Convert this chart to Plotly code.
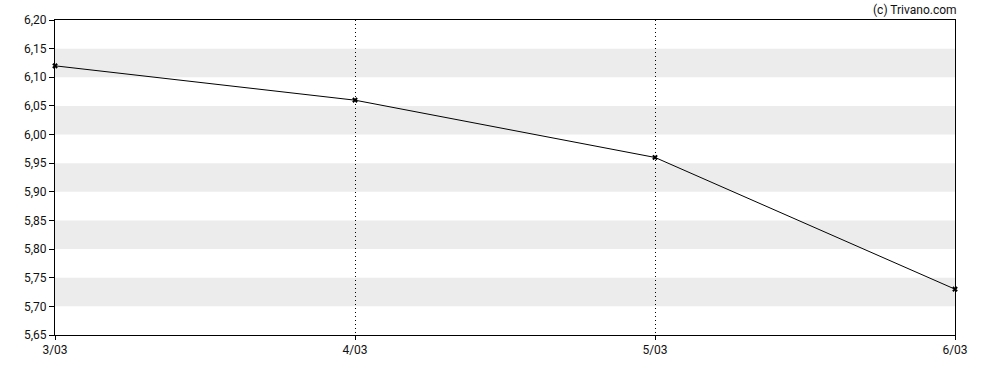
import plotly.graph_objects as go

dates = ["3/03", "4/03", "5/03", "6/03"]
prices = [6.12, 6.06, 5.96, 5.73]
y_ticks = [5.65, 5.70, 5.75, 5.80, 5.85, 5.90, 5.95, 6.00, 6.05, 6.10, 6.15, 6.20]

fig = go.Figure()

# alternating gray bands
shapes = []
for i in range(1, len(y_ticks) - 1, 2):
    shapes.append(dict(type="rect", xref="paper", yref="y", x0=0, x1=1,
                       y0=y_ticks[i], y1=y_ticks[i + 1],
                       fillcolor="#ececec", line=dict(width=0), layer="below"))

fig.add_trace(go.Scatter(
    x=list(range(len(dates))), y=prices, mode="lines+markers",
    line=dict(color="#000000", width=1),
    marker=dict(symbol="x", size=5, color="#000000", line=dict(width=0)),
    cliponaxis=False,
    hoverinfo="skip", showlegend=False))

fig.update_layout(
    width=988, height=370,
    margin=dict(l=55, r=33, t=20, b=35),
    plot_bgcolor="white", paper_bgcolor="white",
    separators=",.",
    font=dict(family="Roboto", size=12, color="#111111"),
    shapes=shapes,
    xaxis=dict(range=[0, len(dates) - 1], tickvals=list(range(len(dates))), ticktext=dates,
               showline=True, linecolor="black", linewidth=1, mirror=True,
               ticks="outside", ticklen=4, tickcolor="black",
               showgrid=True, gridcolor="black", gridwidth=1, griddash="1px,3px",
               zeroline=False, fixedrange=True),
    yaxis=dict(range=[5.65, 6.20], tickvals=y_ticks, tickformat=".2f",
               showline=True, linecolor="black", linewidth=1, mirror=True,
               ticks="outside", ticklen=5, tickcolor="black",
               showgrid=False, zeroline=False, fixedrange=True),
    annotations=[dict(text="(c) Trivano.com", xref="paper", yref="paper",
                      x=1.0, y=1.0, xanchor="right", yanchor="bottom", yshift=1, xshift=4,
                      showarrow=False, font=dict(size=12, color="#111111"))],
)

fig.write_html("out.html")
